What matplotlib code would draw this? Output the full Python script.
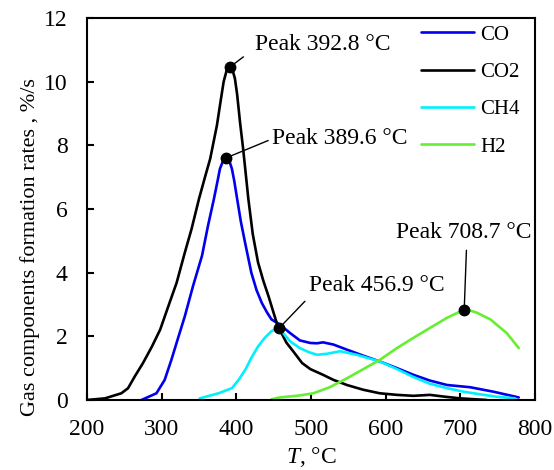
import numpy as np
import matplotlib
matplotlib.use("Agg")
import matplotlib.pyplot as plt

plt.rcParams['font.family'] = ['Liberation Serif', 'DejaVu Serif']
plt.rcParams['mathtext.fontset'] = 'custom'
plt.rcParams['mathtext.rm'] = 'Liberation Serif'
plt.rcParams['mathtext.it'] = 'Liberation Serif:italic'

# --- data (T in °C, rate in %/s) ---
co_T = [273, 293, 304, 313, 322, 331, 342, 354, 362, 370, 375, 378, 382, 386, 390,
        394, 397, 401, 406, 412, 420, 427, 434, 441, 447, 458, 472, 485, 499, 508,
        516, 530, 548, 570, 592, 615, 637, 659, 682, 713, 744, 778]
co_val = [0.0, 0.21, 0.63, 1.26, 1.95, 2.63, 3.58, 4.53, 5.47, 6.32, 6.9, 7.26, 7.5, 7.6, 7.55,
          7.26, 6.9, 6.32, 5.6, 4.9, 4.0, 3.45, 3.05, 2.75, 2.53, 2.37, 2.1, 1.87, 1.79, 1.78,
          1.81, 1.74, 1.58, 1.39, 1.21, 1.0, 0.79, 0.61, 0.47, 0.4, 0.26, 0.08]

co2_T = [200, 224, 246, 255, 264, 275, 287, 298, 309, 320, 331, 340, 350, 358, 365,
         374, 379, 383, 387, 391, 395, 398, 401, 405, 409, 413, 416, 422, 429, 436,
         443, 449, 454, 458, 467, 476, 488, 499, 516, 530, 548, 570, 592, 615, 637,
         659, 680, 700, 735]
co2_val = [0.0, 0.05, 0.21, 0.37, 0.74, 1.16, 1.68, 2.21, 2.95, 3.68, 4.63, 5.37, 6.32, 7.0, 7.58,
           8.63, 9.4, 10.0, 10.35, 10.45, 10.35, 10.1, 9.6, 8.7, 7.9, 7.0, 6.32, 5.2, 4.32, 3.75,
           3.26, 2.8, 2.42, 2.21, 1.8, 1.53, 1.16, 0.97, 0.79, 0.63, 0.47, 0.32, 0.21, 0.16, 0.13,
           0.16, 0.1, 0.05, 0.0]

ch4_T = [351, 376, 394, 403, 412, 420, 429, 438, 447, 453, 457, 462, 472, 485, 497,
         508, 521, 539, 561, 592, 615, 637, 659, 682, 704, 726, 749, 773]
ch4_val = [0.05, 0.21, 0.37, 0.63, 0.95, 1.32, 1.68, 1.95, 2.16, 2.23, 2.25, 2.12, 1.84, 1.63, 1.5,
           1.42, 1.45, 1.53, 1.42, 1.21, 0.97, 0.72, 0.51, 0.37, 0.26, 0.18, 0.1, 0.05]

h2_T = [447, 458, 481, 503, 525, 548, 570, 592, 615, 637, 659, 682, 698, 705, 714,
        722, 740, 762, 778]
h2_val = [0.02, 0.08, 0.13, 0.21, 0.4, 0.68, 0.97, 1.26, 1.63, 1.95, 2.26, 2.58, 2.76, 2.82, 2.8,
          2.74, 2.53, 2.1, 1.63]

series_names = ["CO", "CO2", "CH4", "H2"]
series_colors = ["#0000ee", "black", "#00f0ff", "#66ee33"]

# peak labels and where their text sits (T, rate)
peak_labels = ["Peak 389.6 \u00b0C", "Peak 392.8 \u00b0C", "Peak 456.9 \u00b0C", "Peak 708.7 \u00b0C"]
label_pos = [(448, 8.2), (425, 11.15), (497, 3.58), (614, 5.25)]

fig, ax = plt.subplots(figsize=(5.54, 4.70), dpi=100)
fig.subplots_adjust(left=0.157, right=0.966, bottom=0.149, top=0.962)

all_T = [co_T, co2_T, ch4_T, h2_T]
all_val = [co_val, co2_val, ch4_val, h2_val]
for T, v, name, c in zip(all_T, all_val, series_names, series_colors):
    ax.plot(T, v, color=c, lw=1.9, label=name,
            solid_capstyle='round', solid_joinstyle='round')

# peak markers with leader lines
rel = [(0.0, 0.5), (0.0, 0.35), (0.02, 0.1), (0.52, 0.0)]
shrink = [1, 8, 2, 3]
for T, v, text, pos, rp, sa in zip(all_T, all_val, peak_labels, label_pos, rel, shrink):
    i = int(np.argmax(v))
    ax.plot(T[i], v[i], 'o', color='black', ms=7.5, zorder=5)
    ax.annotate(text, xy=(T[i], v[i]), xytext=pos, fontsize=17,
                ha='left', va='center',
                arrowprops=dict(arrowstyle='-', color='black', lw=1.0,
                                shrinkA=sa, shrinkB=0, relpos=rp))

ax.set_xlim(200, 800)
ax.set_ylim(0, 12)
ax.set_xticks(np.arange(200, 801, 100))
ax.set_yticks(np.arange(0, 13, 2))
ax.tick_params(direction='in', length=5, width=1.5, labelsize=17, top=False, right=False)
ax.tick_params(axis='x', pad=14)
ax.tick_params(axis='y', pad=14)
for s in ax.spines.values():
    s.set_linewidth(1.5)

ax.set_xlabel('$T$, \u00b0C', fontsize=17, labelpad=3)
ax.set_ylabel('Gas components formation rates , %/s', fontsize=16)
ax.yaxis.set_label_coords(-0.105, 0.40)

ax.legend(loc='upper left', bbox_to_anchor=(0.746, 0.981), frameon=False, fontsize=15,
          handlelength=2.55, handletextpad=0.29, labelspacing=0.85,
          borderpad=0, borderaxespad=0)

fig.savefig("out.png", dpi=100)
